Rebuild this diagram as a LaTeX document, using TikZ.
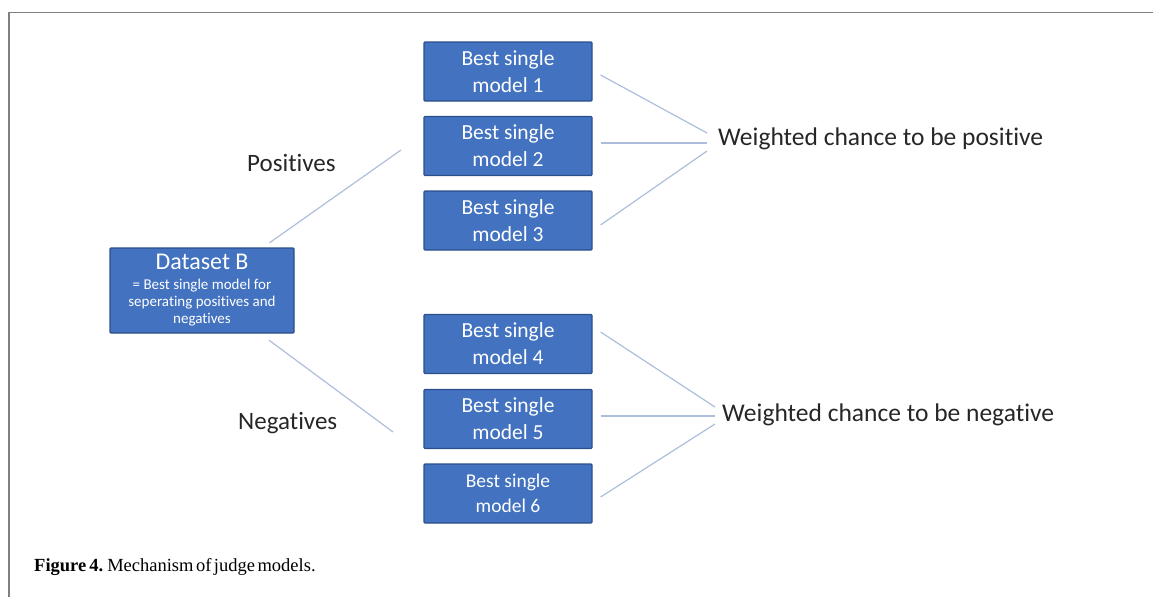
\documentclass[tikz,border=0pt]{standalone}
\usepackage{fontspec}
\setmainfont{Carlito}[Ligatures={NoCommon,NoContextual}]
\newfontfamily\capfont{Liberation Serif}
\definecolor{boxblue}{RGB}{66,114,192}
\definecolor{boxedge}{RGB}{44,78,138}
\definecolor{linkblue}{RGB}{172,190,220}
\definecolor{framegray}{RGB}{128,128,128}
\tikzset{
	modelbox/.style={draw=boxedge, line width=1.2pt, fill=boxblue, text=white, align=center,
		minimum width=168pt, minimum height=59pt, inner sep=0pt, rounded corners=1pt,
		font=\fontsize{21.5}{27}\selectfont},
	link/.style={draw=linkblue, line width=1.2pt},
	label/.style={inner sep=0pt, text=black!85}
}
\begin{document}
\begin{tikzpicture}[x=1pt, y=-1pt]
			\useasboundingbox (0,0) rectangle (1153,597);
			%frame
			\draw[framegray, line width=1.5pt] (9,597) -- (9,12.5) -- (1153,12.5);

			%dataset
			\node[modelbox, minimum width=184pt, minimum height=85pt, font=\fontsize{15}{17}\selectfont] (ds) at (202,290.5)
				{{\fontsize{24}{25}\selectfont Dataset B}\\[3pt]= Best single model for\\seperating positives and\\negatives};

			\node[label, anchor=base west, font=\fontsize{25}{30}\selectfont] (pos) at (247,171) {Positives};

			\node[label, anchor=base west, font=\fontsize{25}{30}\selectfont] (neg) at (238,429) {Negatives};

			%models
			\node[modelbox] (m1) at (508,71.5) {Best single\\model 1};

			\node[modelbox] (m2) at (508,146) {Best single\\model 2};

			\node[modelbox] (m3) at (508,220.5) {Best single\\model 3};

			\node[modelbox] (m4) at (508,344) {Best single\\model 4};

			\node[modelbox] (m5) at (508,419) {Best single\\model 5};

			\node[modelbox, font=\fontsize{19.5}{25}\selectfont] (m6) at (508,493.5) {Best single\\model 6};

			%outcomes
			\node[label, anchor=west, font=\fontsize{25.5}{30}\selectfont] (wpos) at (718,139) {Weighted chance to be positive};

			\node[label, anchor=west, font=\fontsize{25.5}{30}\selectfont] (wneg) at (722,415) {Weighted chance to be negative};

			%links
			\coordinate (pend) at (401,150);
			\coordinate (nend) at (393,432);

			\draw[link, shorten <=8pt] (ds) -- (pend);

			\draw[link, shorten <=11pt] (ds) -- (nend);

			\draw[link] ([xshift=8pt,yshift=-3.5pt]m1.east) -- ([xshift=-11pt,yshift=6pt]wpos.west);

			\draw[link] ([xshift=8pt,yshift=3pt]m2.east) -- ([xshift=-11pt,yshift=-4pt]wpos.west);

			\draw[link] ([xshift=8pt,yshift=-4.5pt]m3.east) -- ([xshift=-11pt,yshift=-12pt]wpos.west);

			\draw[link] ([xshift=8pt,yshift=12pt]m4.east) -- ([xshift=-7pt,yshift=8pt]wneg.west);

			\draw[link] ([xshift=8pt,yshift=3pt]m5.east) -- ([xshift=-7pt,yshift=-1pt]wneg.west);

			\draw[link] ([xshift=8pt,yshift=-3.5pt]m6.east) -- ([xshift=-7pt,yshift=-9pt]wneg.west);

			%caption
			\node[label, anchor=base west, text=black, font=\capfont\fontsize{18.5}{22}\selectfont] (cap) at (34,571)
				{\spaceskip=2.5pt\textbf{Figure\,4.} Mechanism of judge models.};
\end{tikzpicture}
\end{document}
